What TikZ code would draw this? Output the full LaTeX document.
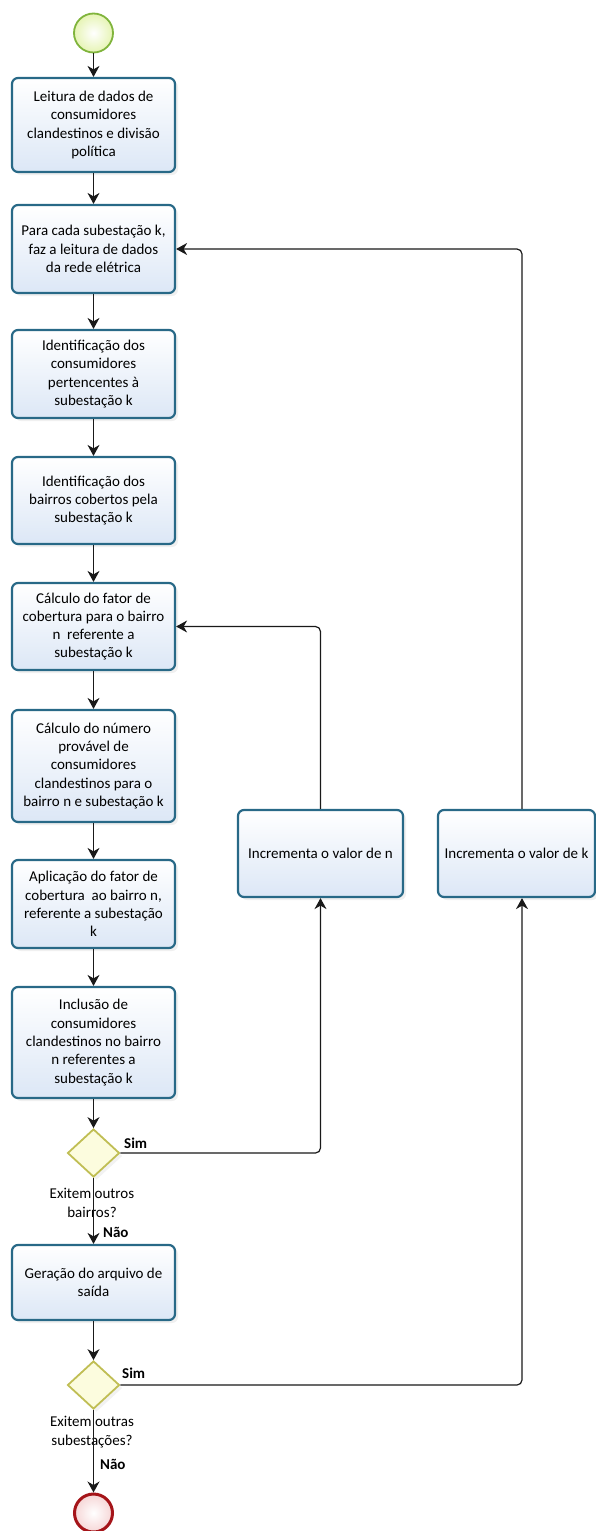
\documentclass[tikz,border=0pt]{standalone}
\usepackage{fontspec}
\setmainfont{Carlito}
\usetikzlibrary{arrows.meta,shapes.geometric,shadows,calc}
\definecolor{boxborder}{RGB}{40,105,135}
\definecolor{boxfillb}{RGB}{220,231,246}
\definecolor{startborder}{RGB}{128,180,60}
\definecolor{startfill}{RGB}{230,244,180}
\definecolor{endborder}{RGB}{165,20,25}
\definecolor{endfill}{RGB}{246,214,214}
\definecolor{gateborder}{RGB}{192,190,84}
\definecolor{gatefill}{RGB}{252,252,222}
\definecolor{conn}{RGB}{25,25,25}
\tikzset{
  task/.style={rectangle, rounded corners=6pt, draw=boxborder, line width=2.2pt,
    top color=white, bottom color=boxfillb, align=center, inner sep=2pt,
    font=\fontsize{15}{18.3}\selectfont,
    drop shadow={opacity=0.12, shadow xshift=3pt, shadow yshift=-3pt}},
  gate/.style={diamond, draw=gateborder, line width=1.8pt, fill=gatefill,
    minimum width=52pt, minimum height=48pt, inner sep=0pt,
    drop shadow={opacity=0.10, shadow xshift=3pt, shadow yshift=-3pt}},
  startev/.style={circle, draw=startborder, line width=1.8pt, inner color=white,
    outer color=startfill, minimum size=39pt, inner sep=0pt},
  endev/.style={circle, draw=endborder, line width=3pt, inner color=white,
    outer color=endfill, minimum size=38pt, inner sep=0pt},
  flow/.style={draw=conn, line width=1.2pt, -{Stealth[length=11pt,width=12pt,inset=3.5pt]}},
  lbl/.style={font=\fontsize{15}{18.3}\selectfont, align=center, inner sep=0pt},
  blbl/.style={font=\fontsize{15}{18}\selectfont\bfseries, inner sep=0pt, anchor=west},
}
\begin{document}
\begin{tikzpicture}[x=1pt,y=-1pt]
\useasboundingbox (0,0) rectangle (596,1531);
\node[startev] (start) at (93.5,33) {};
\node[task, minimum width=163pt, minimum height=94pt] (b1) at (93.5,125) {Leitura de dados de\\consumidores\\clandestinos e divisão\\política};
\node[task, minimum width=163pt, minimum height=88pt] (b2) at (93.5,249) {Para cada subestação k,\\faz a leitura de dados\\da rede elétrica};
\node[task, minimum width=163pt, minimum height=88pt] (b3) at (93.5,374) {Identificação dos\\consumidores\\pertencentes à\\subestação k};
\node[task, minimum width=163pt, minimum height=87pt] (b4) at (93.5,500.5) {Identificação dos\\bairros cobertos pela\\subestação k};
\node[task, minimum width=163pt, minimum height=87pt] (b5) at (93.5,626.5) {Cálculo do fator de\\cobertura para o bairro\\n\ \ referente a\\subestação k};
\node[task, minimum width=163pt, minimum height=112pt] (b6) at (93.5,766) {Cálculo do número\\provável de\\consumidores\\clandestinos para o\\bairro n e subestação k};
\node[task, minimum width=163pt, minimum height=88pt] (b7) at (93.5,904) {Aplicação do fator de\\cobertura\ \ ao bairro n,\\referente a subestação\\k};
\node[task, minimum width=163pt, minimum height=111pt] (b8) at (93.5,1042.5) {Inclusão de\\consumidores\\clandestinos no bairro\\n referentes a\\subestação k};
\node[gate] (d1) at (93.5,1153) {};
\node[task, minimum width=163pt, minimum height=75pt] (b9) at (93.5,1282.5) {Geração do arquivo de\\saída};
\node[gate] (d2) at (93.5,1385) {};
\node[endev] (stop) at (93.5,1513) {};
\node[task, minimum width=165pt, minimum height=87pt] (incn) at (320.5,853.5) {Incrementa o valor de n};
\node[task, minimum width=157pt, minimum height=87pt] (inck) at (516.5,853.5) {Incrementa o valor de k};
\coordinate (kx) at (522,853.5);
% labels
\node[lbl] (q1) at (92,1203) {Exitem outros\\bairros?};
\node[lbl] (q2) at (92,1432) {Exitem outras\\subestações?};
\node[blbl] (sim1) at (124,1143) {Sim};
\node[blbl] (nao1) at (103,1232) {Não};
\node[blbl] (sim2) at (122,1373) {Sim};
\node[blbl] (nao2) at (100,1464) {Não};
% main flow
\draw[flow] (start) -- (b1);
\draw[flow] (b1) -- (b2);
\draw[flow] (b2) -- (b3);
\draw[flow] (b3) -- (b4);
\draw[flow] (b4) -- (b5);
\draw[flow] (b5) -- (b6);
\draw[flow] (b6) -- (b7);
\draw[flow] (b7) -- (b8);
\draw[flow] (b8) -- (d1);
\draw[flow] (d1) -- (b9);
\draw[flow] (b9) -- (d2);
\draw[flow] (d2) -- (stop);
% loops
\draw[flow, rounded corners=5pt] (d1.east) -- (d1.east -| incn.south) -- (incn.south);
\draw[flow, rounded corners=5pt] (incn.north) -- (incn.north |- b5.east) -- (b5.east);
\draw[flow, rounded corners=5pt] (d2.east) -- (d2.east -| kx) -- (inck.south -| kx);
\draw[flow, rounded corners=5pt] (inck.north -| kx) -- (kx |- b2.east) -- (b2.east);
\end{tikzpicture}
\end{document}
